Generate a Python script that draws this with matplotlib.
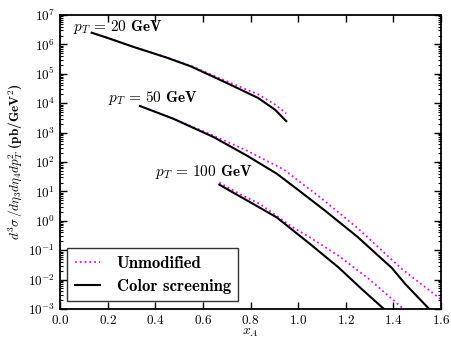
import numpy as np
import matplotlib
matplotlib.use("Agg")
import matplotlib.pyplot as plt
from matplotlib.ticker import LogLocator, MultipleLocator

plt.rcParams['mathtext.fontset'] = 'cm'
plt.rcParams['font.family'] = ['cmr10', 'DejaVu Serif']
plt.rcParams['axes.formatter.use_mathtext'] = True

# 读取的数据 (x_A, d^3 sigma)
x20_cs = [0.133, 0.20, 0.307, 0.448, 0.55, 0.693, 0.832, 0.903, 0.95]
y20_cs = [2.5e6, 1.66e6, 8.3e5, 3.55e5, 1.78e5, 5.2e4, 1.5e4, 6.0e3, 2.45e3]
x20_un = [0.133, 0.20, 0.307, 0.448, 0.55, 0.693, 0.832, 0.903, 0.95]
y20_un = [2.5e6, 1.66e6, 8.3e5, 3.6e5, 1.86e5, 5.9e4, 2.0e4, 9.0e3, 4.5e3]

x50_cs = [0.336, 0.476, 0.644, 0.784, 0.91, 1.0, 1.113, 1.25, 1.336, 1.393, 1.45, 1.55]
y50_cs = [8.0e3, 2.95e3, 7.1e2, 1.66e2, 40.0, 11.2, 2.2, 0.28, 6.5e-2, 2.5e-2, 7.0e-3, 1.0e-3]
x50_un = [0.336, 0.476, 0.644, 0.784, 0.94, 1.1, 1.252, 1.435, 1.597]
y50_un = [8.0e3, 3.0e3, 7.9e2, 2.45e2, 55.0, 5.6, 0.54, 2.3e-2, 2.2e-3]

x100_cs = [0.669, 0.72, 0.798, 0.91, 1.05, 1.169, 1.27, 1.36]
y100_cs = [17.0, 9.8, 4.3, 1.3, 0.162, 2.6e-2, 4.5e-3, 1.0e-3]
x100_un = [0.669, 0.75, 0.84, 0.973, 1.05, 1.169, 1.30, 1.442]
y100_un = [20.0, 8.5, 3.7, 0.63, 0.27, 6.5e-2, 1.0e-2, 1.0e-3]

labels = [r'$p_T\,=\,20$ GeV', r'$p_T\,=\,50$ GeV', r'$p_T\,=\,100$ GeV']
label_pos = [(0.055, 3.9e6), (0.20, 1.5e4), (0.40, 4.4e1)]

mag = '#e010e0'

fig = plt.figure(figsize=(4.51, 3.41), dpi=100)
ax = fig.add_axes([0.133, 0.094, 0.845, 0.862])

ax.plot(x20_un, y20_un, ':', color=mag, lw=1.3, label='Unmodified')
ax.plot(x20_cs, y20_cs, '-', color='k', lw=1.5, label='Color screening')
ax.plot(x50_un, y50_un, ':', color=mag, lw=1.3)
ax.plot(x50_cs, y50_cs, '-', color='k', lw=1.5)
ax.plot(x100_un, y100_un, ':', color=mag, lw=1.3)
ax.plot(x100_cs, y100_cs, '-', color='k', lw=1.5)

for txt, (tx, ty) in zip(labels, label_pos):
    ax.text(tx, ty, txt, fontsize=11, family='cmb10', va='center', ha='left')

ax.set_yscale('log')
ax.set_xlim(0.0, 1.6)
ax.set_ylim(1e-3, 1e7)
ax.xaxis.set_major_locator(MultipleLocator(0.2))
ax.yaxis.set_major_locator(LogLocator(base=10, numticks=20))
ax.yaxis.set_minor_locator(LogLocator(base=10, subs=np.arange(2, 10), numticks=20))
ax.tick_params(which='both', direction='in', top=True, right=True, labelsize=9.5)
ax.tick_params(which='major', length=5, width=1)
ax.tick_params(which='minor', length=2.5, width=0.8)
for s in ax.spines.values():
    s.set_linewidth(1.3)

ax.set_xlabel(r'$x_A$', fontsize=10, labelpad=0)
ax.set_ylabel(r'$d^3\sigma\,/d\eta_3 d\eta_4 dp_T^2$ (pb/GeV$^2$)', fontsize=9.5,
              family='cmb10', labelpad=2)

leg = ax.legend(loc='lower left', frameon=True, fancybox=False,
                edgecolor='k', handlelength=1.5, handletextpad=1.0,
                borderpad=0.45, borderaxespad=0.45,
                prop={'family': 'cmb10', 'size': 12})
leg.get_frame().set_linewidth(1.0)

fig.savefig('out.png', dpi=100)
